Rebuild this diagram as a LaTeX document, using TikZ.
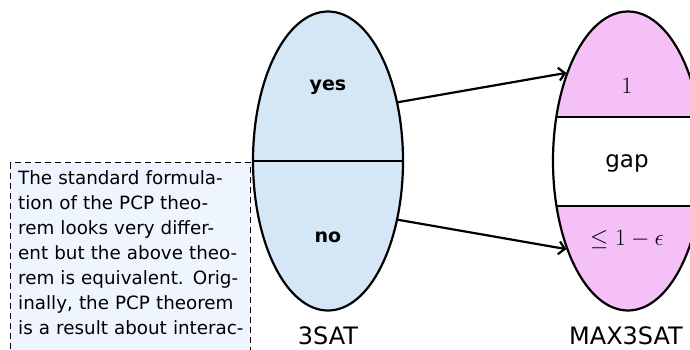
\documentclass[tikz,border=0pt]{standalone}
\usepackage{fix-cm}
\usepackage{fontspec}
\setmainfont{DejaVu Sans}
\usetikzlibrary{shapes.geometric,arrows.meta}
\definecolor{satblue}{HTML}{D5E6F7}
\definecolor{maxpink}{HTML}{F5C0F5}
\definecolor{notebg}{HTML}{EEF5FF}
\tikzset{
  setshape/.style={ellipse, minimum width=150pt, minimum height=299pt, inner sep=0pt},
  conn/.style={line width=2.2pt, -{Straight Barb[length=6pt,width=13pt,line width=2.2pt]}},
  divider/.style={line width=2pt},
  biglbl/.style={anchor=base, inner sep=0pt, font=\fontsize{24}{28}\selectfont},
  midlbl/.style={anchor=base, inner sep=0pt, font=\fontsize{19}{23}\selectfont\bfseries},
  mathlbl/.style={anchor=base, inner sep=0pt, font=\fontsize{23.5}{28}\selectfont},
  notebox/.style={draw, dashed, dash pattern=on 6pt off 4pt, line width=1.2pt, fill=notebg,
    minimum width=240pt, minimum height=220pt, anchor=north west, inner sep=0pt},
}
\newcommand{\jl}[1]{\makebox[227pt][s]{#1}\\}
\begin{document}
\begin{tikzpicture}[x=1pt,y=-1pt]
\useasboundingbox (0,0) rectangle (690,350);
\clip (0,0) rectangle (690,350);
% note box
\node[notebox] (box) at (10,162) {};
\node[anchor=north west, inner sep=0pt, text width=227pt,
  font=\fontsize{18.3}{25}\selectfont] (note) at (18,170.1) {%
\jl{The standard formula-}%
\jl{tion of the PCP theo-}%
\jl{rem looks very differ-}%
\jl{ent but the above theo-}%
\jl{rem is equivalent. Orig-}%
\jl{inally, the PCP theorem}%
\makebox[227pt][s]{is a result about interac-}};
% 3SAT
\node[setshape, draw, line width=2.2pt, fill=satblue] (sat) at (328,161) {};
\draw[divider] (sat.west) -- (sat.east);
% MAX3SAT
\node[setshape, fill=maxpink] (maxfill) at (628,161) {};
\begin{scope}
  \clip (maxfill.center) ellipse [x radius=75pt, y radius=149.5pt];
  \fill[white] (553,117) rectangle (703,206);
  \draw[divider] (553,117) -- (703,117) (553,206) -- (703,206);
\end{scope}
\node[setshape, draw, line width=2.2pt] (max) at (maxfill.center) {};
% arrows
\draw[conn] (sat.40) -- (max.125);
\draw[conn] (sat.-40) -- (max.-125);
% labels
\node[midlbl] (yes) at (328,91) {yes};
\node[midlbl] (no) at (328,242) {no};
\node[mathlbl] (one) at (627,94) {$1$};
\node[biglbl, font=\fontsize{23}{28}\selectfont] (gap) at (627,167) {gap};
\node[mathlbl] (le) at (627,245) {$\le 1-\epsilon$};
\node[biglbl] (satname) at (328,344) {3SAT};
\node[biglbl] (maxname) at (626,344) {MAX3SAT};
\end{tikzpicture}
\end{document}
